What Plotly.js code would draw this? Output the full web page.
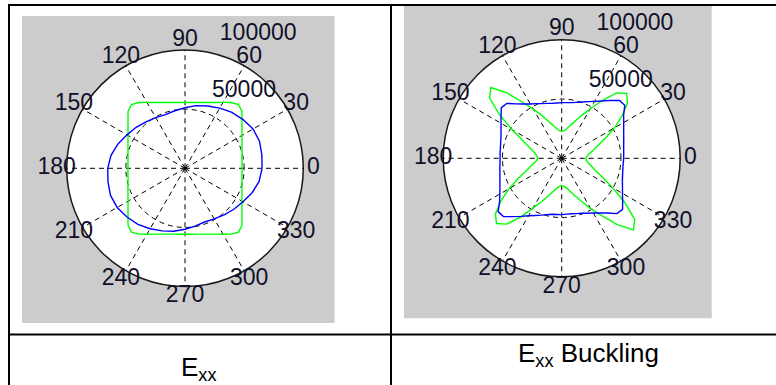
<!DOCTYPE html>
<html>
<head>
<meta charset="utf-8">
<script src="https://cdn.plot.ly/plotly-3.0.1.min.js"></script>
<style>
html,body{margin:0;padding:0;background:#ffffff;}
#chart{width:776px;height:385px;}
</style>
</head>
<body>
<div id="chart"></div>
<script>
// ---------- data ----------
const angleTicks = [0, 30, 60, 90, 120, 150, 180, 210, 240, 270, 300, 330];
const angleTickText = ['0', '30', '60', '90', '120', '150', '180', '210', '240', '270', '300', '330'];
const radialMax = 100000;
const radialGrid = [50000];
const radialLabelText = ['50000', '100000'];
const radialLabelR = [50700, 98900];
const radialLabelTheta = [72, 77];
const panelLabels = ['E<sub>xx</sub>', 'E<sub>xx</sub> Buckling'];

const thetaCoarse = [0, 10, 20, 30, 40, 50, 60, 70, 80, 90, 100, 110, 120, 130, 140, 150, 160, 170,
  180, 190, 200, 210, 220, 230, 240, 250, 260, 270, 280, 290, 300, 310, 320, 330, 340, 350, 360];
const thetaFine = [0, 5, 10, 15, 20, 25, 30, 35, 40, 45, 50, 55, 60, 65, 70, 75, 80, 85, 90,
  95, 100, 105, 110, 115, 120, 125, 130, 135, 140, 145, 150, 155, 160, 165, 170, 175,
  180, 185, 190, 195, 200, 205, 210, 215, 220, 225, 230, 235, 240, 245, 250, 255, 260, 265, 270,
  275, 280, 285, 290, 295, 300, 305, 310, 315, 320, 325, 330, 335, 340, 345, 350, 355, 360];

// Exx panel
const exxBlue = [65150, 65950, 67000, 66400, 64050, 61700, 58800, 56050, 53800, 51150, 49400, 48300,
  49500, 51350, 53900, 56550, 60250, 63500,
  65300, 66100, 67000, 66200, 64000, 61900, 59000, 56300, 54000, 51500, 49600, 48300,
  49400, 51400, 53900, 56600, 60400, 63600, 65150];
const exxGreen = [48200, 48400, 48900, 49900, 51300, 53200, 55600, 58800, 62900, 68100, 70400, 67900,
  64300, 61400, 59200, 57600, 56500, 55900, 55600,
  55900, 56500, 57600, 59200, 61400, 64300, 67900, 70400, 68100, 62900, 58800, 55600, 53200,
  51300, 49900, 48900, 48400,
  48200, 48400, 48900, 49900, 51300, 53200, 55600, 58800, 62900, 68100, 70400, 67900,
  64300, 61400, 59200, 57600, 56500, 55900, 55600,
  55900, 56500, 57600, 59200, 61400, 64300, 67900, 70400, 68100, 62900, 58800, 55600, 53200,
  51300, 49900, 48900, 48400, 48200];

// Exx Buckling panel
const bucklingBlue = [52300, 52500, 53100, 54200, 55700, 57700, 60400, 63800, 69500, 69000, 63800, 59100,
  55500, 52800, 50600, 48900, 47700, 47200, 47000,
  46900, 47100, 48000, 49100, 50900, 52900, 56000, 60000, 65500, 66500, 62500, 59100, 56500,
  54500, 53300, 52500, 52200,
  52000, 52300, 53000, 54000, 55500, 57500, 60300, 64000, 70000, 69500, 64300, 59800,
  56000, 53200, 51000, 49200, 48000, 47600, 47500,
  47300, 47500, 48300, 49400, 51200, 53200, 56300, 60300, 66000, 67000, 62800, 59200, 56600,
  54500, 53200, 52400, 52100, 52300];
const bucklingGreen = [20200, 21500, 24000, 28000, 33000, 41000, 51500, 62000, 72500, 77500, 72000, 59500,
  48000, 40000, 33500, 29000, 25500, 23500, 22800,
  23500, 25500, 29000, 33500, 40000, 48000, 58000, 72000, 84500, 79500, 64000, 48500, 37000,
  30000, 25500, 22500, 21000,
  20000, 21300, 23800, 27500, 32500, 40500, 51500, 62500, 73000, 77800, 72500, 60500,
  48500, 40500, 34000, 29500, 26000, 24000, 23200,
  23800, 25800, 29500, 34000, 40500, 49000, 59000, 73000, 85500, 80500, 65000, 49500, 38000,
  30500, 26000, 22800, 21000, 20200];

// ---------- layout helpers (pixel geometry of the page) ----------
const W = 776, H = 385;
const px = v => v / W;
const py = v => 1 - v / H;
function circleDomain(cx, cy, r) {
  return { x: [(cx - r) / W, (cx + r) / W], y: [(H - cy - r) / H, (H - cy + r) / H] };
}
const LABEL_RING = 1.085;   // MATLAB puts angle labels just outside the rim, centred
const tickFont = { family: 'Liberation Sans, Arial, sans-serif', size: 23, color: '#101028' };
const DASH = '5px,4px';
const panels = [
  { cx: 185, cy: 168.3, r: 118.3 },
  { cx: 561.7, cy: 158.3, r: 118.5 }
];

function polarAxes(dom) {
  return {
    domain: dom,
    bgcolor: '#ffffff',
    radialaxis: {
      range: [0, radialMax], tickmode: 'array', tickvals: radialGrid,
      showticklabels: false, ticks: '', showline: false,
      showgrid: true, gridcolor: '#000000', griddash: DASH, gridwidth: 1
    },
    angularaxis: {
      rotation: 0, direction: 'counterclockwise',
      tickmode: 'array', tickvals: angleTicks,
      showticklabels: false,
      ticks: '', showline: true, linecolor: '#1a1a1a', linewidth: 1.5,
      showgrid: true, gridcolor: '#000000', griddash: DASH, gridwidth: 1
    }
  };
}
function labelAxes(dom) {
  return {
    domain: dom,
    bgcolor: 'rgba(0,0,0,0)',
    radialaxis: { range: [0, radialMax], visible: false },
    angularaxis: { rotation: 0, direction: 'counterclockwise', visible: false }
  };
}

function curve(theta, r, color, sub) {
  return { type: 'scatterpolar', mode: 'lines', theta: theta, r: r, subplot: sub,
    line: { color: color, width: 1.4 }, hoverinfo: 'skip', showlegend: false };
}
function rLabels(sub) {
  return { type: 'scatterpolar', mode: 'markers+text', subplot: sub, r: radialLabelR, theta: radialLabelTheta,
    text: radialLabelText, textposition: 'top right', cliponaxis: false,
    marker: { size: 12, color: 'rgba(0,0,0,0)' },
    textfont: tickFont, hoverinfo: 'skip', showlegend: false };
}
function aLabels(sub) {
  return { type: 'scatterpolar', mode: 'text', subplot: sub,
    r: angleTicks.map(() => radialMax), theta: angleTicks, text: angleTickText,
    textposition: 'middle center', cliponaxis: false,
    textfont: tickFont, hoverinfo: 'skip', showlegend: false };
}

const data = [
  curve(thetaFine, exxGreen, '#00ff00', 'polar'),
  curve(thetaCoarse, exxBlue, '#0000ff', 'polar'),
  rLabels('polar'),
  curve(thetaFine, bucklingGreen, '#00ff00', 'polar2'),
  curve(thetaFine, bucklingBlue, '#0000ff', 'polar2'),
  rLabels('polar2'),
  aLabels('polar3'),
  aLabels('polar4')
];

const lineStyle = { color: '#000000', width: 2 };
const shapes = [
  // grey figure backgrounds
  { type: 'rect', xref: 'paper', yref: 'paper', x0: px(22), x1: px(334.5), y0: py(16), y1: py(323),
    fillcolor: '#cccccc', line: { width: 0 }, layer: 'below' },
  { type: 'rect', xref: 'paper', yref: 'paper', x0: px(404), x1: px(711.7), y0: py(5), y1: py(318.3),
    fillcolor: '#cccccc', line: { width: 0 }, layer: 'below' },
  // table rules
  { type: 'line', xref: 'paper', yref: 'paper', x0: px(8), x1: px(776), y0: py(5), y1: py(5), line: lineStyle },
  { type: 'line', xref: 'paper', yref: 'paper', x0: px(9), x1: px(9), y0: py(4), y1: py(385), line: lineStyle },
  { type: 'line', xref: 'paper', yref: 'paper', x0: px(391), x1: px(391), y0: py(4), y1: py(385), line: lineStyle },
  { type: 'line', xref: 'paper', yref: 'paper', x0: px(8), x1: px(776), y0: py(334.5), y1: py(334.5), line: lineStyle }
];

const labelFont = { family: 'Liberation Sans, Arial, sans-serif', size: 26, color: '#000000' };
const annotations = [
  { xref: 'paper', yref: 'paper', x: px(199), y: py(368), text: panelLabels[0], showarrow: false,
    xanchor: 'center', yanchor: 'middle', font: labelFont },
  { xref: 'paper', yref: 'paper', x: px(588), y: py(354), text: panelLabels[1], showarrow: false,
    xanchor: 'center', yanchor: 'middle', font: labelFont }
];

const layout = {
  width: W, height: H,
  margin: { l: 0, r: 0, t: 0, b: 0 },
  paper_bgcolor: '#ffffff',
  showlegend: false,
  polar: polarAxes(circleDomain(panels[0].cx, panels[0].cy, panels[0].r)),
  polar2: polarAxes(circleDomain(panels[1].cx, panels[1].cy, panels[1].r)),
  polar3: labelAxes(circleDomain(panels[0].cx, panels[0].cy, panels[0].r * LABEL_RING)),
  polar4: labelAxes(circleDomain(panels[1].cx, panels[1].cy, panels[1].r * LABEL_RING)),
  shapes: shapes,
  annotations: annotations
};

Plotly.newPlot('chart', data, layout, { displayModeBar: false, staticPlot: true });
</script>
</body>
</html>
